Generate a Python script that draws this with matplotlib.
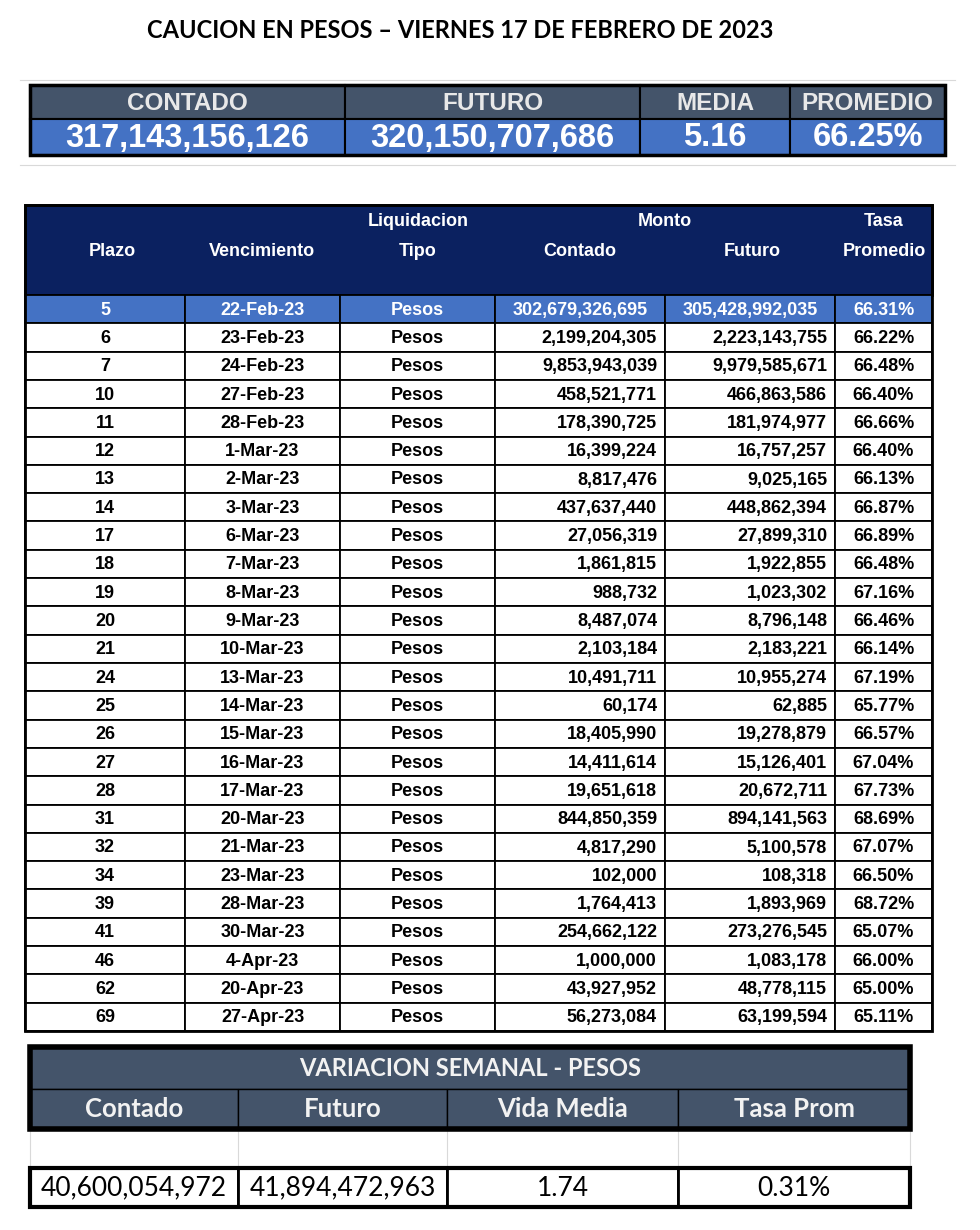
import matplotlib.pyplot as plt
from matplotlib.patches import Rectangle

# ---- data ----
titulo = "CAUCION EN PESOS – VIERNES 17 DE FEBRERO DE 2023"

resumen_titulos = ["CONTADO", "FUTURO", "MEDIA", "PROMEDIO"]
resumen_valores = ["317,143,156,126", "320,150,707,686", "5.16", "66.25%"]

plazo = [5, 6, 7, 10, 11, 12, 13, 14, 17, 18, 19, 20, 21, 24, 25, 26, 27, 28,
         31, 32, 34, 39, 41, 46, 62, 69]
vencimiento = ["22-Feb-23", "23-Feb-23", "24-Feb-23", "27-Feb-23", "28-Feb-23",
               "1-Mar-23", "2-Mar-23", "3-Mar-23", "6-Mar-23", "7-Mar-23",
               "8-Mar-23", "9-Mar-23", "10-Mar-23", "13-Mar-23", "14-Mar-23",
               "15-Mar-23", "16-Mar-23", "17-Mar-23", "20-Mar-23", "21-Mar-23",
               "23-Mar-23", "28-Mar-23", "30-Mar-23", "4-Apr-23", "20-Apr-23",
               "27-Apr-23"]
contado = [302679326695, 2199204305, 9853943039, 458521771, 178390725,
           16399224, 8817476, 437637440, 27056319, 1861815, 988732, 8487074,
           2103184, 10491711, 60174, 18405990, 14411614, 19651618, 844850359,
           4817290, 102000, 1764413, 254662122, 1000000, 43927952, 56273084]
futuro = [305428992035, 2223143755, 9979585671, 466863586, 181974977,
          16757257, 9025165, 448862394, 27899310, 1922855, 1023302, 8796148,
          2183221, 10955274, 62885, 19278879, 15126401, 20672711, 894141563,
          5100578, 108318, 1893969, 273276545, 1083178, 48778115, 63199594]
tasa = [66.31, 66.22, 66.48, 66.40, 66.66, 66.40, 66.13, 66.87, 66.89, 66.48,
        67.16, 66.46, 66.14, 67.19, 65.77, 66.57, 67.04, 67.73, 68.69, 67.07,
        66.50, 68.72, 65.07, 66.00, 65.00, 65.11]

var_titulos = ["Contado", "Futuro", "Vida Media", "Tasa Prom"]
var_valores = ["40,600,054,972", "41,894,472,963", "1.74", "0.31%"]

# ---- colours / fonts ----
SLATE = "#44546a"
BLUE = "#4472c4"
NAVY = "#0b2160"
NARROW = ["Liberation Sans Narrow", "Liberation Sans", "DejaVu Sans"]
ARIAL = ["Liberation Sans", "DejaVu Sans"]
CALIBRI = ["Lato", "DejaVu Sans"]

fig = plt.figure(figsize=(9.8, 12.3), dpi=100)
ax = fig.add_axes([0, 0, 1, 1])
ax.set_xlim(0, 980)
ax.set_ylim(1230, 0)
ax.axis("off")


def box(x0, y0, x1, y1, fc="white", ec="black", lw=1.0, z=1):
    ax.add_patch(Rectangle((x0, y0), x1 - x0, y1 - y0, facecolor=fc,
                           edgecolor=ec, linewidth=lw, zorder=z))


# title
ax.text(460, 31, titulo, ha="center", va="center", fontsize=17,
        fontweight="bold", family=CALIBRI)

# ---- summary block ----
cols_top = [30, 345, 640, 790, 945]
for y in (80, 165):
    ax.plot([20, 955], [y, y], color="#d9d9d9", lw=0.8, zorder=0)
for i in range(4):
    x0, x1 = cols_top[i], cols_top[i + 1]
    box(x0, 85, x1, 119, fc=SLATE, ec="black", lw=1.5)
    box(x0, 119, x1, 155, fc=BLUE, ec="black", lw=1.5)
    ax.text((x0 + x1) / 2, 103, resumen_titulos[i], ha="center", va="center",
            fontsize=17.5, fontweight="bold", color="#e8e8e8", family=ARIAL, zorder=3)
    ax.text((x0 + x1) / 2, 138, resumen_valores[i], ha="center", va="center",
            fontsize=23.5, fontweight="bold", color="white", family=ARIAL, zorder=3)
ax.add_patch(Rectangle((30, 85), 915, 70, fill=False, ec="black", lw=2.5, zorder=4))

# ---- main table ----
cols = [25, 185, 340, 495, 665, 835, 932]
top, head_bot = 205, 295
row_h = (1031 - head_bot) / len(plazo)
box(cols[0], top, cols[-1], head_bot, fc=NAVY, ec="black", lw=2)
hdr = dict(ha="center", va="center", fontsize=13, fontweight="bold",
           color="white", family=NARROW, zorder=3)
ax.text(112, 251, "Plazo", **hdr)
ax.text(262, 251, "Vencimiento", **hdr)
ax.text(418, 222, "Liquidacion", **hdr)
ax.text(418, 251, "Tipo", **hdr)
ax.text(665, 222, "Monto", **hdr)
ax.text(580, 251, "Contado", **hdr)
ax.text(752, 251, "Futuro", **hdr)
ax.text(884, 222, "Tasa", **hdr)
ax.text(884, 251, "Promedio", **hdr)

for r in range(len(plazo)):
    y0 = head_bot + r * row_h
    yc = y0 + row_h / 2 + 1
    first = r == 0
    fc = BLUE if first else "white"
    tc = "white" if first else "black"
    fam = NARROW if first else ARIAL
    for c in range(6):
        box(cols[c], y0, cols[c + 1], y0 + row_h, fc=fc, ec="black", lw=1.3)
    kw = dict(va="center", fontsize=13, fontweight="bold", color=tc,
              family=fam, zorder=3)
    ax.text((cols[0] + cols[1]) / 2, yc, str(plazo[r]), ha="center", **kw)
    ax.text((cols[1] + cols[2]) / 2, yc, vencimiento[r], ha="center", **kw)
    ax.text((cols[2] + cols[3]) / 2, yc, "Pesos", ha="center", **kw)
    if first:
        ax.text((cols[3] + cols[4]) / 2, yc, f"{contado[r]:,}", ha="center", **kw)
        ax.text((cols[4] + cols[5]) / 2, yc, f"{futuro[r]:,}", ha="center", **kw)
    else:
        ax.text(cols[4] - 8, yc, f"{contado[r]:,}", ha="right", **kw)
        ax.text(cols[5] - 8, yc, f"{futuro[r]:,}", ha="right", **kw)
    ax.text((cols[5] + cols[6]) / 2, yc, f"{tasa[r]:.2f}%", ha="center", **kw)
ax.add_patch(Rectangle((cols[0], top), cols[-1] - cols[0], 1031 - top,
                       fill=False, ec="black", lw=2, zorder=4))

# ---- weekly variation block ----
cols_b = [30, 238, 447, 678, 910]
box(30, 1047, 910, 1089, fc=SLATE, ec="black", lw=1)
ax.text(470, 1069, "VARIACION SEMANAL - PESOS", ha="center", va="center",
        fontsize=17, fontweight="bold", color="#f2f2f2", family=CALIBRI, zorder=3)
for i in range(4):
    x0, x1 = cols_b[i], cols_b[i + 1]
    box(x0, 1089, x1, 1129, fc=SLATE, ec="black", lw=1)
    ax.text((x0 + x1) / 2, 1109, var_titulos[i], ha="center", va="center",
            fontsize=18.5, fontweight="bold", color="#f2f2f2", family=CALIBRI, zorder=3)
    ax.plot([x0, x0], [1129, 1168], color="#d9d9d9", lw=0.8, zorder=0)
    box(x0, 1168, x1, 1207, fc="white", ec="black", lw=2)
    ax.text((x0 + x1) / 2, 1188, var_valores[i], ha="center", va="center",
            fontsize=19, color="black", family=CALIBRI, zorder=3)
ax.plot([910, 910], [1129, 1168], color="#d9d9d9", lw=0.8, zorder=0)
ax.add_patch(Rectangle((30, 1047), 880, 82, fill=False, ec="black", lw=4, zorder=4))
ax.add_patch(Rectangle((30, 1168), 880, 39, fill=False, ec="black", lw=3, zorder=4))

fig.savefig("out.png", dpi=100)
